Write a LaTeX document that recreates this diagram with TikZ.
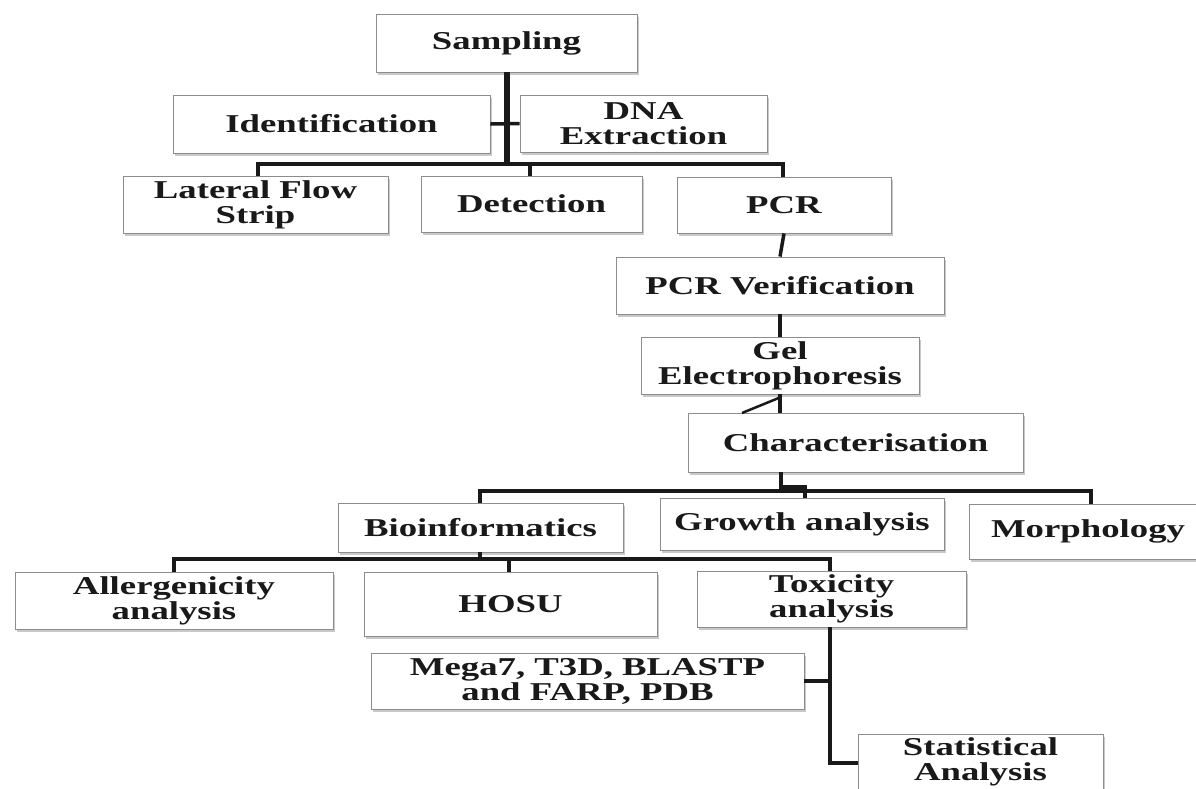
\documentclass[tikz,border=0pt]{standalone}
\usepackage{fontspec}
\setmainfont{Liberation Serif}[FakeStretch=1.43]
\usetikzlibrary{shadows,calc}
\begin{document}
\begin{tikzpicture}[x=1pt,y=-1pt,
  box/.style={draw=black!45, line width=0.9pt, fill=white, inner sep=0pt, align=center,
    text=black!90, font=\fontsize{25.7}{25}\selectfont\bfseries,
    drop shadow={shadow xshift=1.5pt, shadow yshift=-2.5pt, opacity=0.35, fill=black!60}},
  conn/.style={line width=3.5pt, draw=black!90},
  trunk/.style={line width=6pt, draw=black!90}]
\clip (0,0) rectangle (1196,788);
\fill[white] (0,0) rectangle (1196,788);

\node[box, minimum width=261pt, minimum height=58pt] (samp) at (506.5,43) {Sampling};
\node[box, minimum width=317pt, minimum height=58pt] (ident) at (331.5,124) {Identification};
\node[box, minimum width=247pt, minimum height=57pt] (dna) at (643.5,123.5) {DNA\\Extraction};
\node[box, minimum width=265pt, minimum height=57pt] (lat) at (255.5,204.5) {Lateral Flow\\Strip};
\node[box, minimum width=221pt, minimum height=56pt] (det) at (531.5,204) {Detection};
\node[box, minimum width=214pt, minimum height=56pt] (pcr) at (784,205) {PCR};
\node[box, minimum width=328pt, minimum height=57pt] (pcrv) at (780,285.5) {PCR Verification};
\node[box, minimum width=278pt, minimum height=57pt] (gel) at (780,365.5) {Gel\\Electrophoresis};
\node[box, minimum width=335pt, minimum height=59pt] (char) at (855.5,442.5) {Characterisation};
\node[box, minimum width=285pt, minimum height=49pt] (bio) at (480.5,527.5) {Bioinformatics};
\node[box, minimum width=284pt, minimum height=52pt] (grow) at (802,524) {Growth analysis};
\node[box, minimum width=238pt, minimum height=55pt] (morph) at (1088,531.5) {Morphology};
\node[box, minimum width=318pt, minimum height=57pt] (aller) at (174,600.5) {Allergenicity\\analysis};
\node[box, minimum width=293pt, minimum height=64pt] (hosu) at (510.5,604) {HOSU};
\node[box, minimum width=269pt, minimum height=56pt] (tox) at (831.5,599) {Toxicity\\analysis};
\node[box, minimum width=433pt, minimum height=56pt] (mega) at (587.5,681) {Mega7, T3D, BLASTP\\and FARP, PDB};
\node[box, minimum width=245pt, minimum height=56pt] (stat) at (980.5,762) {Statistical\\Analysis};

% Sampling level
\coordinate (j1) at (507,164);
\draw[trunk] (samp.south) -- (samp.south |- j1);
\draw[conn] (ident.east) -- (dna.west);
\coordinate (dl) at (258,164);
\coordinate (dd) at (530,164);
\coordinate (dp) at (783,164);
\draw[conn] (lat.north -| dl) -- (dl) -- (dp) -- (pcr.north -| dp);
\draw[conn] (dd) -- (det.north -| dd);

% PCR chain
\draw[conn] (pcr.south) -- (pcrv.north);
\draw[conn] (pcrv.south) -- (gel.north);
\draw[conn] (gel.south) -- (char.north -| gel.south);
\coordinate (dg) at (742,413);
\draw[conn, line width=2.5pt] (dg) -- ($(gel.south)+(0,3)$);

% Characterisation level
\coordinate (c0) at (781,491);
\draw[conn] (c0 |- char.south) -- (c0);
\coordinate (cb) at (480,491);
\coordinate (cm) at (1091,491);
\draw[conn] (bio.north -| cb) -- (cb) -- (cm) -- (morph.north -| cm);
\coordinate (cg) at (805,487);
\draw[conn] (c0 |- cg) -- (cg) -- (grow.north -| cg);

% Bioinformatics level
\coordinate (b0) at (480,559);
\draw[conn] (bio.south -| b0) -- (b0);
\coordinate (ba) at (174,559);
\coordinate (bh) at (509,559);
\coordinate (bt) at (830,559);
\draw[conn] (aller.north -| ba) -- (ba) -- (bt) -- (tox.north -| bt);
\draw[conn] (bh) -- (hosu.north -| bh);

% Toxicity level
\coordinate (t0) at (830,763);
\draw[conn] (tox.south -| t0) -- (t0) -- (stat.west |- t0);
\draw[conn] (mega.east) -- (mega.east -| t0);
\end{tikzpicture}
\end{document}
